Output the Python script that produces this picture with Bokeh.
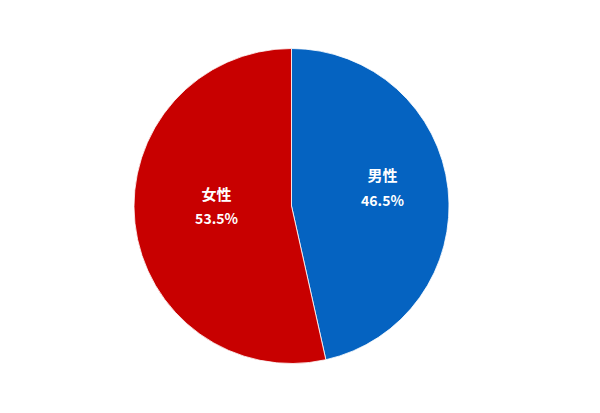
import numpy as np
from bokeh.plotting import figure
from bokeh.models import ColumnDataSource, Range1d
from bokeh.core.properties import value
from bokeh.embed import file_html
from bokeh.resources import INLINE

# data
labels = ["男性", "女性"]
shares = [46.5, 53.5]
colors = ["#0563C1", "#C80000"]

R = 157.5
W, H = 584, 397
cx, cy = 291, 205.5  # centre of the pie inside the canvas (pixels from left / top)

frac = np.array(shares) / 100.0
ends = np.pi / 2 - 2 * np.pi * np.cumsum(frac)
starts = np.concatenate([[np.pi / 2], ends[:-1]])
mids = (starts + ends) / 2
lr = 0.53 * R

src = ColumnDataSource(dict(
    start=starts, end=ends, color=colors,
    name=labels, pct=["%.1f%%" % s for s in shares],
    lx=lr * np.cos(mids) + 8, ly=lr * np.sin(mids) + 10,
))

p = figure(width=W, height=H, output_backend="svg", toolbar_location=None,
           x_range=Range1d(-cx, W - cx), y_range=Range1d(-(H - cy), cy),
           min_border=0)
p.axis.visible = False
p.grid.visible = False
p.outline_line_color = None

p.wedge(x=0, y=0, radius=R, start_angle="start", end_angle="end",
        direction="clock", fill_color="color", line_color="white",
        line_width=0.8, source=src)

p.text(x="lx", y="ly", text="name", source=src, text_color="white",
       text_font=value("Noto Sans CJK JP"), text_font_style="bold",
       text_font_size="15px", text_align="center", text_baseline="middle",
       y_offset=-12)
p.text(x="lx", y="ly", text="pct", source=src, text_color="white",
       text_font=value("Noto Sans CJK JP"), text_font_style="bold",
       text_font_size="14px", text_align="center", text_baseline="middle",
       y_offset=13)

open("out.html", "w").write(file_html(p, INLINE))
